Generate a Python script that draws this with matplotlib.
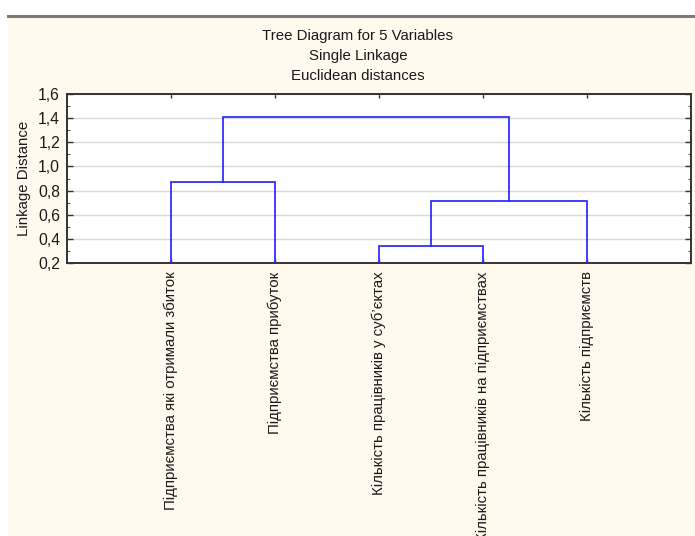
import matplotlib
matplotlib.use("Agg")
import matplotlib.pyplot as plt
from matplotlib.lines import Line2D
from matplotlib.patches import Rectangle
from matplotlib.ticker import MultipleLocator, FuncFormatter

plt.rcParams['font.family'] = ['Liberation Sans', 'DejaVu Sans']

# Variables in leaf order (left to right)
labels = [
    "Підприємства які отримали збиток",
    "Підприємства прибуток",
    "Кількість працівників у суб’єктах",
    "Кількість працівників на підприємствах",
    "Кількість підприємств",
]
# Single-linkage merges: (left node, right node, linkage distance)
# nodes 0..4 are leaves, 5.. are clusters created in this order
merge_left = [2, 5, 0, 7]
merge_right = [3, 4, 1, 6]
merge_height = [0.34, 0.71, 0.87, 1.41]

title_lines = ["Tree Diagram for 5 Variables", "Single Linkage", "Euclidean distances"]
y_ticks = [0.2, 0.4, 0.6, 0.8, 1.0, 1.2, 1.4, 1.6]

W, H = 695, 536
fig = plt.figure(figsize=(W / 100, H / 100), dpi=100, facecolor="white")

# cream panel and the grey rule above it
fig.add_artist(Rectangle((8 / W, 0), 1 - 8 / W, 1 - 17 / H, transform=fig.transFigure,
                         facecolor="#fff9ee", edgecolor="none", zorder=0))
fig.add_artist(Line2D([8 / W, 1], [1 - 15.5 / H, 1 - 15.5 / H], transform=fig.transFigure,
                      color="#7a7a7a", lw=2.2, zorder=1))

ax = fig.add_axes([67 / W, 1 - 263 / H, (691 - 67) / W, (263 - 94) / H])
ax.set_facecolor("white")

# node positions: leaves at 1..n, clusters at midpoint of children
n = len(labels)
node_x = {i: i + 1 for i in range(n)}
node_y = {i: y_ticks[0] for i in range(n)}
line_color = "#1f1fff"
for k, (a, b, h) in enumerate(zip(merge_left, merge_right, merge_height)):
    xa, xb = node_x[a], node_x[b]
    ax.plot([xa, xa, xb, xb], [node_y[a], h, h, node_y[b]], color=line_color, lw=1.2,
            solid_joinstyle="miter", zorder=3, clip_on=False)
    node_x[n + k] = (xa + xb) / 2
    node_y[n + k] = h

ax.set_xlim(0, n + 1)
ax.set_ylim(y_ticks[0], y_ticks[-1])
ax.set_yticks(y_ticks)
ax.yaxis.set_minor_locator(MultipleLocator(0.1))
ax.yaxis.set_major_formatter(FuncFormatter(lambda v, p: f"{v:.1f}".replace(".", ",")))
ax.set_xticks(range(1, n + 1))
ax.set_xticklabels(labels, rotation=90, va="top", ha="center")

ax.grid(axis="y", color="#d8d8d8", lw=1.0, zorder=1)
ax.set_axisbelow(True)

ax.tick_params(axis="both", which="major", direction="in", length=4, width=1,
               color="#333333", labelcolor="#1a1a1a", top=True, right=True)
ax.tick_params(axis="y", which="major", labelsize=11.3, pad=5)
ax.tick_params(axis="x", which="major", labelsize=10.8, pad=6, length=3)
ax.tick_params(axis="y", which="minor", direction="in", length=2.5, width=0.8,
               color="#555555", left=True, right=True)

for s in ax.spines.values():
    s.set_color("#333333")
    s.set_linewidth(1.4)

ax.set_ylabel("Linkage Distance", fontsize=10.8, color="#1a1a1a", labelpad=5)

for i, t in enumerate(title_lines):
    fig.text(358 / W, 1 - (36 + 20 * i) / H, t, ha="center", va="center",
             fontsize=10.8, color="#1a1a1a")

fig.savefig("out.png", dpi=100, facecolor=fig.get_facecolor())
